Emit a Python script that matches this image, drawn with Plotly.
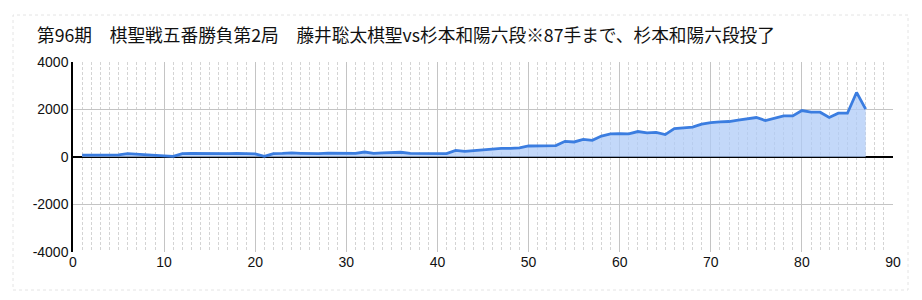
import plotly.graph_objects as go

moves = list(range(1, 88))
values = [
    80, 80, 80, 80, 90, 140, 110, 100, 80, 50,
    25, 140, 150, 140, 140, 140, 140, 150, 150, 130,
    25, 140, 150, 170, 155, 140, 140, 160, 160, 150,
    150, 210, 150, 170, 180, 200, 150, 140, 130, 140,
    140, 281, 239, 270, 310, 340, 366, 366, 380, 464,
    464, 490, 480, 661, 633, 740, 700, 880, 971, 987,
    971, 1072, 1013, 1040, 945, 1198, 1240, 1255, 1380, 1450,
    1480, 1494, 1550, 1620, 1662, 1535, 1634, 1730, 1730, 1958,
    1886, 1886, 1662, 1844, 1844, 2718, 2013,
]
title_text = "第96期　棋聖戦五番勝負第2局　藤井聡太棋聖vs杉本和陽六段※87手まで、杉本和陽六段投了"
x_ticks = [0, 10, 20, 30, 40, 50, 60, 70, 80, 90]
y_ticks = [-4000, -2000, 0, 2000, 4000]
y_tick_labels = ["-4000", "-2000", "0", "2000", "4000"]

tick_font = dict(family="Liberation Sans", size=14, color="#111")

fig = go.Figure()
fig.add_trace(go.Scatter(
    x=moves, y=values, mode="lines",
    line=dict(color="#3b7de0", width=2.8),
    fill="tozeroy", fillcolor="rgba(175,203,247,0.75)",
    hoverinfo="x+y", showlegend=False,
))

fig.update_layout(
    width=922, height=300,
    margin=dict(l=73, r=29, t=62, b=48),
    paper_bgcolor="white", plot_bgcolor="white",
    title=dict(text=title_text, x=37 / 922, xanchor="left", y=1 - 36 / 300, yanchor="middle",
               font=dict(family="Noto Sans CJK JP", size=17.7, color="#111")),
    font=dict(family="Liberation Sans", size=14, color="#111"),
    xaxis=dict(range=[0, 90], tickvals=x_ticks, showgrid=True, gridcolor="#c4c4c4", gridwidth=1,
               minor=dict(dtick=1, tick0=0, showgrid=True, gridcolor="#d4d4d4", griddash="3px,2px", gridwidth=1),
               zeroline=False, showline=False, ticks="", tickfont=tick_font),
    yaxis=dict(range=[-4000, 4000], tickvals=y_ticks, ticktext=y_tick_labels,
               showgrid=True, gridcolor="#c4c4c4", gridwidth=1,
               zeroline=True, zerolinecolor="#000", zerolinewidth=1.5,
               showline=True, linecolor="#000", linewidth=1.5, ticks="",
               tickfont=tick_font),
    shapes=[dict(type="rect", xref="paper", yref="paper",
                 x0=(13 - 73) / 820, x1=(908 - 73) / 820,
                 y0=-(290 - 252) / 190, y1=1 + (62 - 15) / 190,
                 line=dict(color="#e4e4e4", width=1, dash="dot"), layer="below")],
)

fig.write_html("out.html")
